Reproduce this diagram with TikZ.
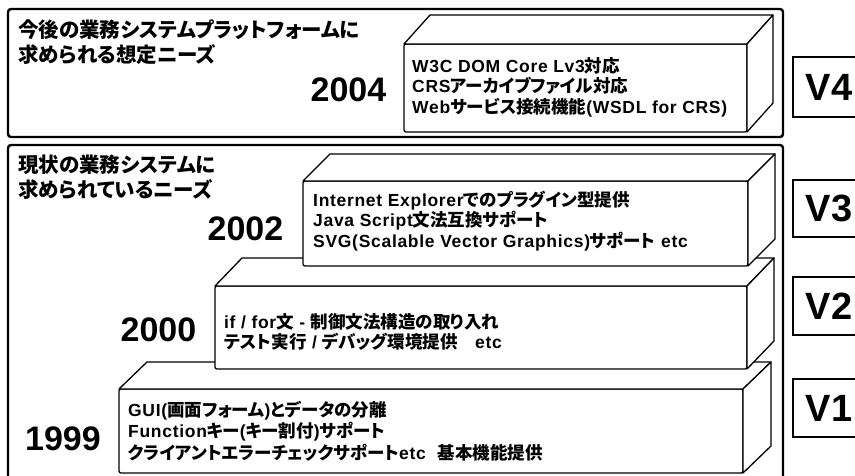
\documentclass[tikz,border=0pt]{standalone}
\usepackage{fontspec}
\setmainfont{Liberation Sans}
\newfontfamily\boxf{Liberation Sans}[LetterSpace=4]
\newfontfamily\jpf{Noto Sans CJK JP}[RawFeature=+palt]
\newcommand\J[1]{{\jpf #1}}
\newcommand\cubebox[7]{%
  \node[frontface, minimum width=#4pt, minimum height=#5pt] (#1) at (#2,#3) {};
  \draw[face] (#1.north west) -- ++(#6,#7) -- ([shift={(#6,#7)}]#1.north east) -- (#1.north east) -- cycle;
  \draw[face] (#1.north east) -- ++(#6,#7) -- ([shift={(#6,#7)}]#1.south east) -- (#1.south east) -- cycle;
}
\begin{document}
\begin{tikzpicture}[x=1pt,y=-1pt,
  outer/.style={draw, line width=2.4pt, rounded corners=3pt},
  face/.style={draw, line width=1.3pt, fill=white, line join=round},
  frontface/.style={face, rounded corners=2pt, anchor=north west, inner sep=0pt, outer sep=0pt},
  boxtxt/.style={anchor=west, inner sep=0pt, align=left, font=\boxf\bfseries\fontsize{17.5}{#1}\selectfont},
  year/.style={inner sep=0pt, font=\bfseries\fontsize{34}{34}\selectfont},
  title/.style={anchor=west, inner sep=0pt, align=left, font=\bfseries\fontsize{20.5}{25}\selectfont},
  vlabel/.style={draw, line width=1.3pt, anchor=north west, minimum width=72pt, inner sep=0pt, outer sep=0pt, font=\bfseries\fontsize{38}{38}\selectfont}
]
\useasboundingbox (0,0) rectangle (855,476);
\clip (0,0) rectangle (855,476);

% outer frames
\draw[outer] (8,9) rectangle (783,137);
\draw[outer] (8,145) rectangle (783,500);

% titles
\node[title] (t1) at (18,42) {\J{今後の業務システムプラットフォームに}\\\J{求められる想定ニーズ}};
\node[title] (t2) at (18,177) {\J{現状の業務システムに}\\\J{求められているニーズ}};

% cubes (bottom first)
\cubebox{c1}{119}{389}{624}{84}{28}{-27}
\cubebox{c2}{215}{286}{532}{83}{27}{-28}
\cubebox{c3}{303}{181}{445}{85}{27}{-27}
\cubebox{c4}{404}{44}{343}{88}{26}{-29}

% cube texts
\node[boxtxt=20.5] (x4) at (412,87) {W3C DOM Core Lv3\J{対応}\\CRS\J{アーカイブファイル対応}\\Web\J{サービス接続機能}(WSDL for CRS)};
\node[boxtxt=20.5] (x3) at (313,221) {Internet Explorer\J{でのプラグイン型提供}\\Java Script\J{文法互換サポート}\\SVG(Scalable Vector Graphics)\J{サポート} etc};
\node[boxtxt=20.5] (x2) at (224,332) {if / for\J{文} - \J{制御文法構造の取り入れ}\\\J{テスト実行} / \J{デバッグ環境提供}\quad etc};
\node[boxtxt=21.5] (x1) at (128,431) {GUI(\J{画面フォーム})\J{とデータの分離}\\Function\J{キー}(\J{キー割付})\J{サポート}\\\J{クライアントエラーチェックサポート}etc\hspace{12pt}\J{基本機能提供}};

% years
\node[year] (y4) at (348.5,90) {2004};
\node[year] (y3) at (245.5,229) {2002};
\node[year] (y2) at (158.5,330) {2000};
\node[year] (y1) at (63,439) {1999};

% version labels
\node[vlabel, minimum height=60pt] (v4) at (793,57) {V4};
\node[vlabel, minimum height=57pt] (v3) at (793,180) {V3};
\node[vlabel, minimum height=58pt] (v2) at (793,277) {V2};
\node[vlabel, minimum height=58pt] (v1) at (793,379) {V1};
\end{tikzpicture}
\end{document}
